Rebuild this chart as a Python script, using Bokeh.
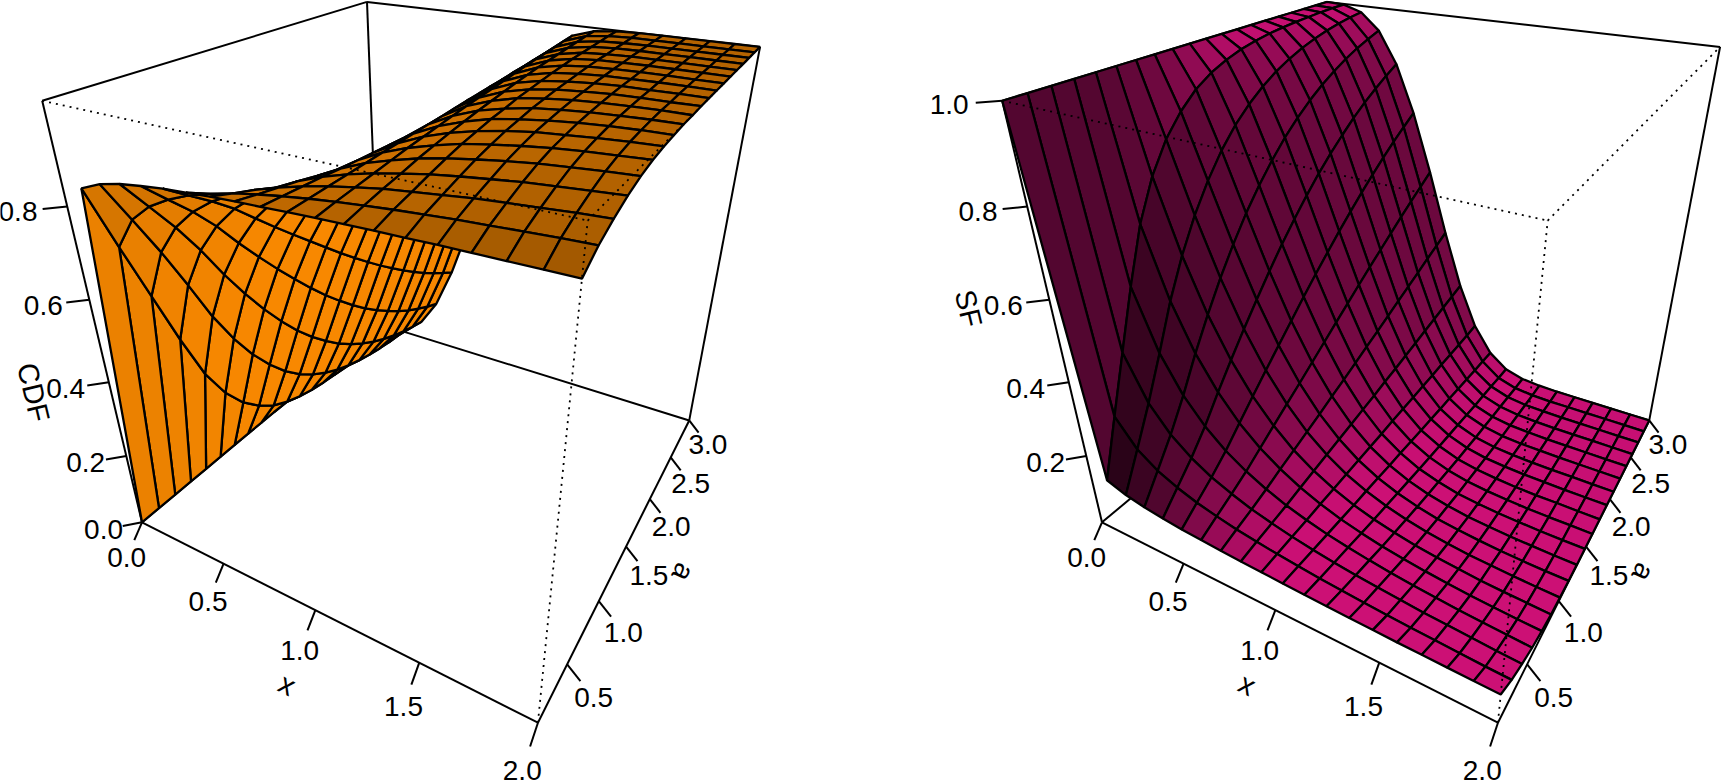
import numpy as np
from bokeh.plotting import figure
from bokeh.models import Range1d
from bokeh.embed import file_html
from bokeh.resources import INLINE
from bokeh.core.properties import value

X_GRID = [0.0, .105, .211, .316, .421, .526, .632, .737, .842, .947, 1.053, 1.158, 1.263, 1.368, 1.474, 1.579, 1.684, 1.789, 1.895, 2.0]
A_GRID = [.1, .253, .405, .558, .711, .863, 1.016, 1.168, 1.321, 1.474, 1.626, 1.779, 1.932, 2.084, 2.237, 2.389, 2.542, 2.695, 2.847, 3.0]

X_TICKS = [0.0, 0.5, 1.0, 1.5, 2.0]
A_TICKS = [0.5, 1.0, 1.5, 2.0, 2.5, 3.0]
CDF_TICKS = [0.0, 0.2, 0.4, 0.6, 0.8]
SF_TICKS = [0.2, 0.4, 0.6, 0.8, 1.0]

# one row per value of a, one column per value of x
CDF = [
 [0,.847,.866,.877,.884,.890,.894,.898,.901,.903,.906,.908,.910,.912,.913,.915,.916,.917,.918,.919],
 [0,.706,.776,.814,.839,.858,.872,.884,.893,.901,.908,.914,.919,.924,.928,.932,.935,.938,.941,.943],
 [0,.570,.685,.751,.795,.827,.851,.871,.886,.899,.910,.919,.927,.933,.939,.945,.949,.953,.957,.960],
 [0,.434,.585,.679,.744,.792,.828,.856,.879,.897,.912,.924,.934,.943,.950,.956,.962,.966,.970,.974],
 [0,.310,.481,.599,.685,.751,.801,.839,.870,.894,.914,.929,.942,.952,.960,.967,.973,.977,.981,.984],
 [0,.222,.394,.527,.630,.711,.774,.824,.862,.892,.916,.934,.948,.960,.968,.975,.981,.985,.988,.991],
 [0,.158,.320,.460,.577,.672,.748,.808,.854,.890,.917,.938,.954,.966,.975,.982,.986,.990,.993,.995],
 [0,.113,.259,.400,.527,.634,.722,.792,.846,.888,.919,.942,.959,.972,.980,.986,.991,.994,.996,.997],
 [0,.079,.207,.345,.478,.596,.695,.775,.838,.886,.921,.946,.964,.976,.985,.990,.994,.996,.998,.999],
 [0,.056,.165,.297,.432,.558,.668,.759,.830,.884,.922,.950,.968,.981,.988,.993,.996,.998,.999,.999],
 [0,.040,.132,.255,.390,.522,.641,.742,.822,.881,.924,.953,.972,.984,.991,.995,.998,.999,.999,1.0],
 [0,.028,.105,.217,.350,.487,.615,.725,.813,.879,.926,.956,.976,.987,.993,.997,.999,.999,1.0,1.0],
 [0,.020,.083,.185,.313,.453,.588,.708,.805,.877,.927,.959,.979,.990,.995,.998,.999,1.0,1.0,1.0],
 [0,.014,.066,.157,.280,.421,.562,.691,.796,.875,.929,.962,.982,.992,.997,.999,1.0,1.0,1.0,1.0],
 [0,.010,.052,.133,.250,.390,.537,.673,.787,.873,.930,.965,.984,.994,.998,.999,1.0,1.0,1.0,1.0],
 [0,.007,.041,.113,.222,.361,.512,.656,.778,.870,.932,.968,.986,.995,.998,1.0,1.0,1.0,1.0,1.0],
 [0,.005,.032,.095,.197,.333,.487,.639,.769,.868,.933,.970,.988,.996,.999,1.0,1.0,1.0,1.0,1.0],
 [0,.003,.025,.080,.175,.307,.463,.621,.760,.866,.935,.972,.990,.997,.999,1.0,1.0,1.0,1.0,1.0],
 [0,.002,.020,.068,.155,.283,.440,.604,.751,.864,.936,.975,.992,.998,1.0,1.0,1.0,1.0,1.0,1.0],
 [0,.002,.016,.057,.137,.260,.417,.587,.742,.861,.937,.977,.993,.998,1.0,1.0,1.0,1.0,1.0,1.0],
]

SF = [
 [1,.153,.134,.123,.116,.110,.106,.102,.099,.097,.094,.092,.090,.088,.087,.085,.084,.083,.082,.081],
 [1,.294,.224,.186,.161,.142,.128,.116,.107,.099,.092,.086,.081,.076,.072,.068,.065,.062,.059,.057],
 [1,.430,.315,.249,.205,.173,.149,.129,.114,.101,.090,.081,.073,.067,.061,.055,.051,.047,.043,.040],
 [1,.566,.415,.321,.256,.208,.172,.144,.121,.103,.088,.076,.066,.057,.050,.044,.038,.034,.030,.026],
 [1,.690,.519,.401,.315,.249,.199,.161,.130,.106,.086,.071,.058,.048,.040,.033,.027,.023,.019,.016],
 [1,.778,.606,.473,.370,.289,.226,.176,.138,.108,.084,.066,.052,.040,.032,.025,.019,.015,.012,.009],
 [1,.842,.680,.540,.423,.328,.252,.192,.146,.110,.083,.062,.046,.034,.025,.018,.014,.010,.007,.005],
 [1,.887,.741,.600,.473,.366,.278,.208,.154,.112,.081,.058,.041,.028,.020,.014,.009,.006,.004,.003],
 [1,.921,.793,.655,.522,.404,.305,.225,.162,.114,.079,.054,.036,.024,.015,.010,.006,.004,.002,.001],
 [1,.944,.835,.703,.568,.442,.332,.241,.170,.116,.078,.050,.032,.019,.012,.007,.004,.002,.001,.001],
 [1,.960,.868,.745,.610,.478,.359,.258,.178,.119,.076,.047,.028,.016,.009,.005,.002,.001,.001,0],
 [1,.972,.895,.783,.650,.513,.385,.275,.187,.121,.074,.044,.024,.013,.007,.003,.001,.001,0,0],
 [1,.980,.917,.815,.687,.547,.412,.292,.195,.123,.073,.041,.021,.010,.005,.002,.001,0,0,0],
 [1,.986,.934,.843,.720,.579,.438,.309,.204,.125,.071,.038,.018,.008,.003,.001,0,0,0,0],
 [1,.990,.948,.867,.750,.610,.463,.327,.213,.127,.070,.035,.016,.006,.002,.001,0,0,0,0],
 [1,.993,.959,.887,.778,.639,.488,.344,.222,.130,.068,.032,.014,.005,.002,0,0,0,0,0],
 [1,.995,.968,.905,.803,.667,.513,.361,.231,.132,.067,.030,.012,.004,.001,0,0,0,0,0],
 [1,.997,.975,.920,.825,.693,.537,.379,.240,.134,.065,.028,.010,.003,.001,0,0,0,0,0],
 [1,.998,.980,.932,.845,.717,.560,.396,.249,.136,.064,.025,.008,.002,0,0,0,0,0,0],
 [1,.998,.984,.943,.863,.740,.583,.413,.258,.139,.063,.023,.007,.002,0,0,0,0,0,0],
]

# camera of the perspective box (homogeneous 3x4 matrix on the unit cube)
CAMERA = np.array([[277.1242, 383.8811, -110.3781, 141.4841],
                   [40.7189, -73.2241, -447.0255, 521.8161],
                   [-0.2211, 0.3863, -0.2540, 1.0]])
XMAX, AMIN, AMAX = 2.0, 0.1, 3.0
TICK = 0.03
FONT = value("Liberation Sans")


def proj(x, a, z):
    x = np.asarray(x, float)
    a = np.asarray(a, float)
    z = np.asarray(z, float)
    h = CAMERA @ np.array([x / XMAX, (a - AMIN) / (AMAX - AMIN), z, np.ones_like(x)])
    return h[0] / h[2], h[1] / h[2]


p = figure(width=1721, height=782, x_range=Range1d(0, 1721), y_range=Range1d(782, 0),
           output_backend="svg", toolbar_location=None, x_axis_type=None, y_axis_type=None,
           min_border=0, outline_line_color=None)
p.grid.visible = False


def seg(b, e, dx, **k):
    u, v = proj([b[0], e[0]], [b[1], e[1]], [b[2], e[2]])
    p.line(u + dx, v, line_color="black", **k)


def box(dx):
    for s, e in [((0, AMIN, 0), (XMAX, AMIN, 0)), ((XMAX, AMIN, 0), (XMAX, AMAX, 0)),
                 ((XMAX, AMAX, 0), (0, AMAX, 0)), ((0, AMAX, 0), (0, AMIN, 0)),
                 ((0, AMIN, 0), (0, AMIN, 1)), ((0, AMAX, 0), (0, AMAX, 1)),
                 ((XMAX, AMAX, 0), (XMAX, AMAX, 1)), ((0, AMIN, 1), (0, AMAX, 1)),
                 ((0, AMAX, 1), (XMAX, AMAX, 1))]:
        seg(s, e, dx, line_width=2)


def dots(dx):
    for s, e in [((XMAX, AMIN, 0), (XMAX, AMIN, 1)), ((0, AMIN, 1), (XMAX, AMIN, 1)),
                 ((XMAX, AMIN, 1), (XMAX, AMAX, 1))]:
        seg(s, e, dx, line_width=1.8, line_dash="2 5")


def surface(Z, base, light, power, cap, dx):
    Z = np.array(Z, float)
    pxs, pys, cols = [], [], []
    for j in range(len(A_GRID) - 2, -1, -1):
        for i in range(len(X_GRID) - 1):
            qx = [X_GRID[i], X_GRID[i + 1], X_GRID[i + 1], X_GRID[i]]
            qa = [A_GRID[j], A_GRID[j], A_GRID[j + 1], A_GRID[j + 1]]
            qz = [Z[j, i], Z[j, i + 1], Z[j + 1, i + 1], Z[j + 1, i]]
            u, v = proj(qx, qa, qz)
            pxs.append(list(u + dx))
            pys.append(list(v))
            scale = 2 / (AMAX - AMIN)
            d1 = np.array([qx[2] - qx[0], (qa[2] - qa[0]) * scale, 2 * (qz[2] - qz[0])])
            d2 = np.array([qx[3] - qx[1], (qa[3] - qa[1]) * scale, 2 * (qz[3] - qz[1])])
            n = np.cross(d1, d2)
            n = n / np.linalg.norm(n)
            s = min(cap, (0.5 * (1 + n @ np.array(light))) ** power)
            cols.append("#%02x%02x%02x" % tuple(int(min(255, b * s)) for b in base))
    p.patches(pxs, pys, fill_color=cols, line_color="black", line_width=2.3)


def tick(b, e, dx, label):
    seg(b, e, dx, line_width=2)
    u, v = proj([b[0], e[0]], [b[1], e[1]], [b[2], e[2]])
    p.text([u[0] + dx + 2 * (u[1] - u[0])], [v[0] + 2 * (v[1] - v[0])], text=[label],
           text_font=FONT, text_font_size="28px", text_align="center", text_baseline="middle")


def ticks(dx, zticks):
    da = TICK * (AMAX - AMIN)
    dx3 = TICK * XMAX
    for t in X_TICKS:
        tick((t, AMIN, 0), (t, AMIN - da, -TICK), dx, "%.1f" % t)
    for t in A_TICKS:
        tick((XMAX, t, 0), (XMAX + dx3, t, -TICK), dx, "%.1f" % t)
    for t in zticks:
        tick((0, AMIN, t), (-dx3, AMIN - da, t), dx, "%.1f" % t)


PANELS = [
    (0, CDF, (255, 140, 0), (-.8, .3, .42), 1, 1.0, CDF_TICKS),
    (960, SF, (255, 20, 147), (.15, .62, .77), 2, 0.8, SF_TICKS),
]
for dx, Z, base, light, power, cap, zticks in PANELS:
    box(dx)
    surface(Z, base, light, power, cap, dx)
    dots(dx)
    ticks(dx, zticks)

AXIS_TITLES = [("x", 286.8, 684, -27), ("a", 683, 572, -116), ("CDF", 33, 392, -76.5),
               ("x", 1246.8, 684, -27), ("a", 1643, 572, -116), ("SF", 968, 308, -76.5)]
for t, x, y, d in AXIS_TITLES:
    p.text([x], [y], text=[t], text_font=FONT, text_font_size="29px", text_align="center",
           text_baseline="middle", angle=np.deg2rad(d))

open("out.html", "w").write(file_html(p, INLINE))
